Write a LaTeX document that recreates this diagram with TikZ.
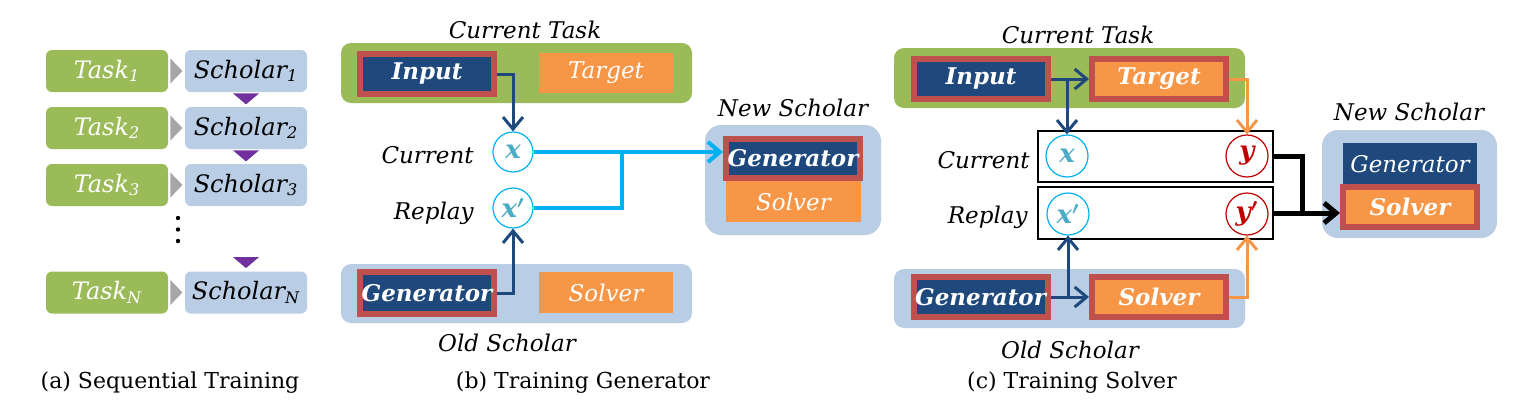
\documentclass[tikz,border=0pt]{standalone}
\usepackage{fontspec}
\setmainfont{DejaVu Serif}
\usetikzlibrary{arrows.meta,calc}
\definecolor{tgreen}{HTML}{9BBB59}
\definecolor{lblue}{HTML}{B9CDE5}
\definecolor{dblue}{HTML}{1F497D}
\definecolor{bred}{HTML}{C0504D}
\definecolor{orng}{HTML}{F79646}
\definecolor{cyanl}{HTML}{00B0F0}
\definecolor{xteal}{HTML}{4BACC6}
\definecolor{yred}{HTML}{C00000}
\definecolor{purp}{HTML}{7030A0}
\definecolor{tgray}{HTML}{A6A6A6}
\newcommand{\prm}{\ensuremath{{}^{\prime}}}
\begin{document}
\begin{tikzpicture}[x=0.5pt,y=-0.5pt,
  every node/.style={inner sep=0pt},
  lbl/.style={font=\fontsize{11.5}{13}\selectfont\itshape},
  captxt/.style={font=\fontsize{11}{13}\selectfont},
  tsk/.style={fill=tgreen, rounded corners=3pt, minimum width=61pt, minimum height=21pt, text=white, font=\fontsize{12}{13}\selectfont\itshape},
  sch/.style={tsk, fill=lblue, text=black},
  panel/.style={rounded corners=5pt, minimum width=175.5pt, minimum height=30pt},
  inbox/.style={minimum width=67pt, minimum height=20pt, text=white, font=\fontsize{11.5}{13}\selectfont\itshape},
  redb/.style={draw=bred, line width=3pt},
  bf/.style={font=\fontsize{11.5}{13}\selectfont\bfseries\itshape},
  navyb/.style={inbox, fill=dblue},
  orgb/.style={inbox, fill=orng},
  xc/.style={circle, draw=cyanl, line width=0.6pt, fill=white, minimum size=20pt, text=xteal, font=\fontsize{13}{14}\selectfont\bfseries\itshape\boldmath},
  yc/.style={xc, draw=yred, text=yred},
  barb/.style={-{Straight Barb[length=6pt,width=10pt]}},
  darr/.style={draw=dblue, line width=1.5pt},
  oarr/.style={draw=orng, line width=1.5pt},
  carr/.style={draw=cyanl, line width=2pt},
  karr/.style={draw=black, line width=2.5pt},
  rowbox/.style={draw=black, line width=0.8pt, fill=white, minimum width=117.5pt, minimum height=25.5pt},
]
\useasboundingbox (0,0) rectangle (1532,413);

% ---------------- panel (a)
\node[tsk] (t1) at (107,71) {\textit{Task}\textsubscript{1}};
\node[tsk] (t2) at (107,128) {\textit{Task}\textsubscript{2}};
\node[tsk] (t3) at (107,185) {\textit{Task}\textsubscript{3}};
\node[tsk] (tN) at (107,292.5) {\textit{Task\textsubscript{N}}};
\node[sch] (s1) at (246,71) {\textit{Scholar}\textsubscript{1}};
\node[sch] (s2) at (246,128) {\textit{Scholar}\textsubscript{2}};
\node[sch] (s3) at (246,185) {\textit{Scholar}\textsubscript{3}};
\node[sch] (sN) at (246,292.5) {\textit{Scholar\textsubscript{N}}};
\foreach \t in {t1,t2,t3,tN}{
  \fill[tgray] ($(\t.east)+(2,-12.5)$) -- ($(\t.east)+(14,0)$) -- ($(\t.east)+(2,12.5)$) -- cycle;
}
\foreach \s in {s1,s2}{
  \fill[purp] ($(\s.south)+(-13,1)$) -- ($(\s.south)+(13,1)$) -- ($(\s.south)+(0,12)$) -- cycle;
}
\fill[purp] ($(sN.north)+(-13,-14)$) -- ($(sN.north)+(13,-14)$) -- ($(sN.north)+(0,-3)$) -- cycle;
\fill (178,218) circle[radius=1.1pt];
\fill (178,229.5) circle[radius=1.1pt];
\fill (178,241) circle[radius=1.1pt];
\node[captxt] (capa) at (170,383) {(a) Sequential Training};

% ---------------- panel (b)
\node[lbl] (bct) at (525,30) {Current Task};
\node[panel, fill=tgreen] (bctp) at (516.5,73) {};
\node[navyb, redb, bf] (bin) at (427,74) {Input};
\node[orgb] (btg) at (606,73) {Target};
\node[panel, fill=lblue, minimum height=29.5pt] (bosp) at (516.5,293.5) {};
\node[navyb, redb, bf, minimum height=21pt] (bgen) at (427,293) {Generator};
\node[orgb, minimum height=20.5pt] (bsol) at (606,292.5) {Solver};
\node[lbl] (bos) at (507,343) {Old Scholar};
\node[xc] (bx) at (513,152) {x};
\node[xc] (bxp) at (513,208) {x\prm};
\node[lbl, anchor=east] (bcur) at (474,155) {Current};
\node[lbl, anchor=east] (brep) at (474,213) {Replay};
\node[lbl] (bns) at (793,108) {New Scholar};
\node[panel, fill=lblue, minimum width=88pt, minimum height=55pt, rounded corners=8pt] (bnsp) at (793,180) {};
\node[orgb, minimum width=67.5pt, minimum height=20.5pt] (bnsol) at (793.5,201.5) {Solver};
\node[navyb, redb, bf, minimum height=19.5pt] (bngen) at (793,158.5) {Generator};
\draw[darr, barb] (bin.east) -| (bx.north);
\draw[darr, barb] (bgen.east) -| (bxp.south);
\coordinate (bj) at (622,152);
\draw[carr] (bxp.east) -| (bj);
\draw[carr, barb] (bx.east) -- (bx.east -| bngen.west);
\node[captxt] (capb) at (583,383) {(b) Training Generator};

% ---------------- panel (c)
\node[lbl] (cct) at (1078,35) {Current Task};
\node[panel, fill=tgreen] (cctp) at (1069.5,78) {};
\node[navyb, redb, bf] (cin) at (981,79) {Input};
\node[orgb, redb, bf] (ctg) at (1159,79) {Target};
\node[panel, fill=lblue, minimum height=29.5pt] (cosp) at (1069.5,298.5) {};
\node[navyb, redb, bf] (cgen) at (980.5,297) {Generator};
\node[orgb, redb, bf] (csol) at (1159,297) {Solver};
\node[lbl] (cos) at (1070,350) {Old Scholar};
\node[rowbox] (ccb) at (1155.5,156.5) {};
\node[rowbox, minimum height=26pt] (crb) at (1155.5,213) {};
\node[xc, minimum size=21pt] (cx) at (1067,156) {x};
\node[yc, minimum size=21pt] (cy) at (1247,156) {y};
\node[xc, minimum size=21pt] (cxp) at (1068,214) {x\prm};
\node[yc, minimum size=21pt] (cyp) at (1247,214) {y\prm};
\node[lbl, anchor=east] (ccur) at (1030,160) {Current};
\node[lbl, anchor=east] (crep) at (1028,217) {Replay};
\node[lbl] (cns) at (1409,112) {New Scholar};
\node[panel, fill=lblue, minimum width=87.5pt, minimum height=54pt, rounded corners=8pt] (cnsp) at (1409.5,184) {};
\node[navyb, minimum height=21pt] (cngen) at (1410,164) {Generator};
\node[orgb, redb, bf] (cnsol) at (1410,207) {Solver};
\draw[darr, barb] (cin.east) -- (ctg.west);
\draw[darr, barb] (cin.east -| cx.north) -- (cx.north);
\draw[darr, barb] (cgen.east) -- (csol.west);
\draw[darr, barb] (cgen.east -| cxp.south) -- (cxp.south);
\draw[oarr, barb] (ctg.east) -| (cy.north);
\draw[oarr, barb] (csol.east) -| (cyp.south);
\coordinate (cj) at (1302,213);
\draw[karr] (ccb.east) -| (cj);
\draw[karr, barb] (crb.east) -- (crb.east -| cnsol.west);
\node[captxt] (capc) at (1072,383) {(c) Training Solver};
\end{tikzpicture}
\end{document}
